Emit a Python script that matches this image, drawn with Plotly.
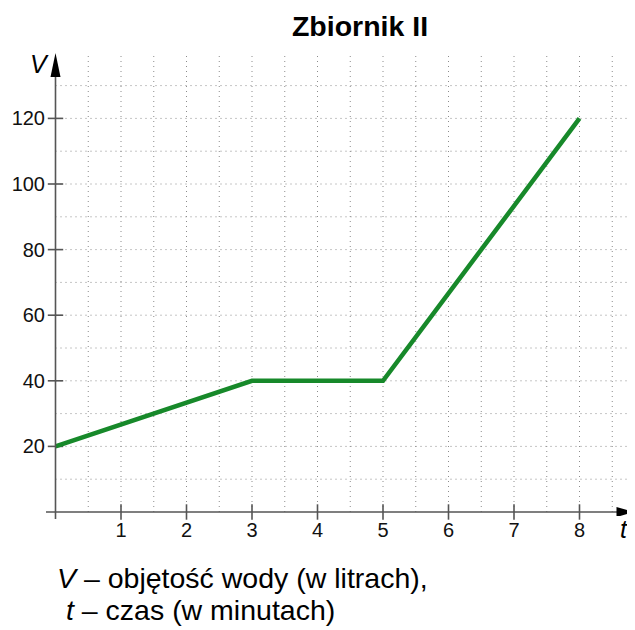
import plotly.graph_objects as go

# Data
t_vals = [0, 3, 5, 8]
v_vals = [20, 40, 40, 120]
x_ticks = [1, 2, 3, 4, 5, 6, 7, 8]
y_ticks = [20, 40, 60, 80, 100, 120]
x_grid = [i * 0.5 for i in range(1, 18)]
y_grid = list(range(10, 140, 10))

OFF = 8  # page body margin
W, H = 635 - OFF, 630 - OFF
# layout given in reference-pixel coordinates, converted by OFF
L_REF, T_REF, B_REF = 46, 53, 516
ML, MR, MT, MB = L_REF - OFF, 0, T_REF - OFF, H - (B_REF - OFF)
PW, PH = W - ML - MR, H - MT - MB
PXX = 65.5   # px per x unit
PXY = 3.28   # px per y unit
X0_REF, Y0_REF = 55.5, 512
x0 = -(X0_REF - L_REF) / PXX
x1 = x0 + PW / PXX
y0 = -(B_REF - Y0_REF) / PXY
y1 = y0 + PH / PXY


def px(xr):
    return (xr - OFF - ML) / PW


def py(yr):
    return (H - MB - (yr - OFF)) / PH


GREEN = "#17892a"
AX = "#555555"
GRID = "#8c8c8c"
DOT = "1px,4px"

fig = go.Figure()
shapes = []
for gx in x_grid:
    shapes.append(dict(type="line", xref="x", yref="y", x0=gx, x1=gx, y0=0, y1=y1,
                       line=dict(color=GRID, width=1, dash=DOT), layer="below"))
for gy in y_grid:
    shapes.append(dict(type="line", xref="x", yref="y", x0=0, x1=x1, y0=gy, y1=gy,
                       line=dict(color=GRID, width=1, dash=DOT), layer="below"))

# axes lines
shapes.append(dict(type="line", xref="paper", yref="y", x0=px(46), x1=1 - 16 / PW, y0=0, y1=0,
                   line=dict(color=AX, width=1.6)))
shapes.append(dict(type="line", xref="x", yref="paper", x0=0, x1=0, y0=py(519), y1=py(74),
                   line=dict(color=AX, width=1.6)))
# arrowheads
tipx = x1 - 0.5 / PXX
bx = tipx - 18 / PXX
shapes.append(dict(type="path", xref="x", yref="y",
                   path=f"M {tipx} 0 L {bx} {5/PXY} L {bx} {-5/PXY} Z",
                   fillcolor="#000000", line=dict(color="#000000", width=0)))
tipy = (Y0_REF - 53) / PXY
by = tipy - 24 / PXY
shapes.append(dict(type="path", xref="x", yref="y",
                   path=f"M 0 {tipy} L {5/PXX} {by} L {-5/PXX} {by} Z",
                   fillcolor="#000000", line=dict(color="#000000", width=0)))

# tick marks
fig.add_trace(go.Scatter(x=x_ticks, y=[0] * len(x_ticks), mode="markers",
                         marker=dict(symbol="line-ns", size=11, line=dict(color=AX, width=1.6)),
                         hoverinfo="skip", showlegend=False, cliponaxis=False))
fig.add_trace(go.Scatter(x=[0] * len(y_ticks), y=y_ticks, mode="markers",
                         marker=dict(symbol="line-ew", size=11, line=dict(color=AX, width=1.6)),
                         hoverinfo="skip", showlegend=False, cliponaxis=False))

fig.add_trace(go.Scatter(x=t_vals, y=v_vals, mode="lines",
                         line=dict(color=GREEN, width=4.5), showlegend=False))

FONT = "Liberation Sans, Arial, sans-serif"
fig.update_layout(
    width=W, height=H, margin=dict(l=ML, r=MR, t=MT, b=MB, autoexpand=False),
    paper_bgcolor="white", plot_bgcolor="white",
    shapes=shapes,
    title=dict(text="<b>Zbiornik II</b>", x=(360 - OFF) / W, xanchor="center",
               y=1 - (26 - OFF) / H, yanchor="middle",
               font=dict(family=FONT, size=28.5, color="#000")),
    xaxis=dict(range=[x0, x1], showgrid=False, zeroline=False, showline=False, automargin=False,
               tickvals=x_ticks, ticktext=[str(v) for v in x_ticks], ticks="",
               tickfont=dict(family=FONT, size=20, color="#111"), ticklabelstandoff=0),
    yaxis=dict(range=[y0, y1], showgrid=False, zeroline=False, showline=False, automargin=False,
               tickvals=y_ticks, ticktext=[str(v) for v in y_ticks], ticks="",
               tickfont=dict(family=FONT, size=20, color="#111"), ticklabelstandoff=0),
    annotations=[
        dict(text="<i>V</i>", xref="paper", yref="paper", x=px(39), y=py(64),
             xanchor="center", yanchor="middle",
             showarrow=False, font=dict(family=FONT, size=25, color="#000")),
        dict(text="<i>t</i>", xref="paper", yref="paper", x=px(624), y=py(529),
             xanchor="center", yanchor="middle",
             showarrow=False, font=dict(family=FONT, size=25, color="#000")),
        dict(text="<i>V</i> – objętość wody (w litrach),", xref="paper", yref="paper",
             x=px(55), y=py(578), xanchor="left", yanchor="middle", showarrow=False,
             font=dict(family=FONT, size=28.5, color="#000")),
        dict(text="<i>t</i> – czas (w minutach)", xref="paper", yref="paper",
             x=px(64), y=py(610), xanchor="left", yanchor="middle", showarrow=False,
             font=dict(family=FONT, size=28.5, color="#000")),
    ],
)
fig.write_html("out.html")
